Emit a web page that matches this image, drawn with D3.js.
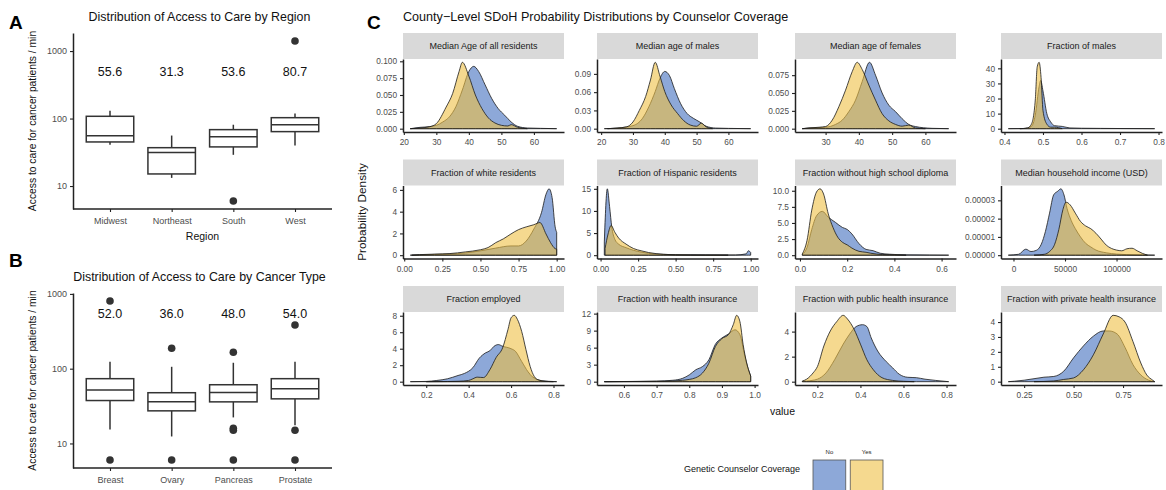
<!DOCTYPE html>
<html>
<head>
<meta charset="utf-8">
<script src="https://cdn.jsdelivr.net/npm/d3@7"></script>
<style>
  body { margin: 0; background: #fff; }
  svg text { font-family: "Liberation Sans", Arial, sans-serif; }
</style>
</head>
<body>
<div id="chart"></div>
<script>
// ---------- panel A : access to care by region ----------
const regions = ["Midwest", "Northeast", "South", "West"];
const regionMedian = [55.6, 31.3, 53.6, 80.7];
const regionQ1 = [45, 15.1, 38, 64];
const regionQ3 = [108, 37, 68.5, 103];
const regionLow = [41, 13.2, 29, 40];
const regionHigh = [131, 56, 81, 119];
const regionOutliers = [[], [], [6.0], [1410]];

// ---------- panel B : access to care by cancer type ----------
const cancers = ["Breast", "Ovary", "Pancreas", "Prostate"];
const cancerMedian = [52.0, 36.0, 48.0, 54.0];
const cancerQ1 = [37.5, 27.3, 36, 39.5];
const cancerQ3 = [73.5, 47.7, 61, 73.5];
const cancerLow = [15.4, 12.4, 22.3, 17.5];
const cancerHigh = [124, 106, 120, 124];
const cancerOutliers = [[805, 6], [188, 6], [166, 16, 15, 6], [384, 15, 6]];

const logTicks = [10, 100, 1000];

// ---------- panel C : densities [value, density] ----------
const facetNames = [
  "Median Age of all residents", "Median age of males", "Median age of females", "Fraction of males",
  "Fraction of white residents", "Fraction of Hispanic residents", "Fraction without high school diploma", "Median household income (USD)",
  "Fraction employed", "Fraction with health insurance", "Fraction with public health insurance", "Fraction with private health insurance"
];

const ageAllNo = [[22,0],[25,0.002],[28,0.003],[30,0.005],[32,0.01],[34,0.0175],[36,0.0325],[38,0.0575],[40,0.085],[41.5,0.0925],[43,0.085],[45,0.065],[47,0.045],[49,0.03],[51,0.02],[53,0.01],[55,0.0035],[58,0.001],[62,0.0005],[67,0]];
const ageAllYes = [[22,0],[25,0.001],[28,0.003],[30,0.0075],[33,0.032],[35,0.052],[37,0.085],[38,0.0985],[40,0.078],[42,0.05],[44,0.03],[46,0.016],[48,0.0085],[50,0.005],[52,0.004],[53,0.006],[55,0.002],[58,0]];
const ageMaleNo = [[21,0],[25,0.001],[30,0.005],[33,0.017],[35,0.036],[37,0.061],[38.5,0.083],[40,0.094],[41.5,0.087],[43,0.066],[45,0.041],[47,0.025],[49,0.017],[51,0.011],[53,0.004],[56,0.001],[60,0.0005],[67,0]];
const ageMaleYes = [[22,0],[25,0.001],[28,0.003],[30,0.011],[32,0.03],[34,0.053],[35.5,0.08],[37,0.109],[38.5,0.086],[40,0.061],[42,0.039],[44,0.025],[46,0.013],[48,0.006],[50,0.004],[51.5,0.009],[53,0.003],[55,0]];
const ageFemaleNo = [[23,0],[25,0.001],[30,0.002],[33,0.006],[35,0.012],[37,0.024],[39,0.04],[41,0.066],[43.2,0.093],[45,0.075],[47,0.05],[49,0.033],[51,0.024],[53,0.014],[55,0.006],[57,0.003],[62,0.0005],[67,0]];
const ageFemaleYes = [[23,0],[25,0.001],[28,0.002],[30,0.003],[32,0.012],[34,0.031],[36,0.054],[38,0.08],[39.5,0.093],[41,0.083],[43,0.061],[45,0.04],[47,0.021],[49,0.011],[51,0.006],[53,0.0035],[55,0.005],[57,0.001],[60,0]];
const maleFracNo = [[0.41,0],[0.45,0.1],[0.47,1.5],[0.48,9],[0.49,28],[0.494,32],[0.5,25],[0.51,10],[0.52,4.5],[0.53,2],[0.55,1.5],[0.57,0.5],[0.6,0.3],[0.65,0.2],[0.7,0.1],[0.79,0]];
const maleFracYes = [[0.44,0],[0.46,0.5],[0.47,3],[0.48,19],[0.485,41],[0.49,44],[0.495,34],[0.5,12],[0.51,3],[0.52,1],[0.53,1],[0.55,0]];
const whiteNo = [[0.04,0],[0.1,0.02],[0.2,0.07],[0.3,0.1],[0.4,0.2],[0.5,0.4],[0.6,0.65],[0.7,0.85],[0.75,0.85],[0.8,1.3],[0.85,2.4],[0.9,3.9],[0.93,5.6],[0.95,6.1],[0.97,5.3],[0.99,2.6],[1.0,2.1]];
const whiteYes = [[0.05,0],[0.1,0.05],[0.2,0.1],[0.3,0.15],[0.4,0.3],[0.5,0.5],[0.55,0.7],[0.6,1.15],[0.65,1.5],[0.7,1.95],[0.75,2.35],[0.8,2.6],[0.85,2.8],[0.89,3.0],[0.93,1.95],[0.96,1.15],[0.99,0.6],[1.0,0.55]];
const hispNo = [[0.025,3],[0.045,15],[0.06,11],[0.075,6.3],[0.095,3.6],[0.12,2.5],[0.17,1.7],[0.22,1.1],[0.27,0.7],[0.32,0.4],[0.4,0.2],[0.5,0.1],[0.7,0.05],[0.9,0.05],[0.97,0.3],[0.985,1.0],[1.0,0.6]];
const hispYes = [[0.03,1.5],[0.05,4.8],[0.07,6.7],[0.095,5.2],[0.12,3.9],[0.17,2.5],[0.22,1.5],[0.27,1.0],[0.32,0.6],[0.37,0.35],[0.42,0.2],[0.5,0.08],[0.6,0.04],[0.75,0.02],[0.85,0]];
const diplomaNo = [[0.01,0.1],[0.03,1.2],[0.05,4.0],[0.07,6.1],[0.095,6.8],[0.12,5.9],[0.15,5.1],[0.18,4.3],[0.2,4.0],[0.22,3.3],[0.25,1.8],[0.28,0.9],[0.31,0.7],[0.34,0.3],[0.38,0.15],[0.45,0.05],[0.55,0.02],[0.63,0]];
const diplomaYes = [[0.01,0.2],[0.03,2.3],[0.05,7.0],[0.07,9.8],[0.085,10.3],[0.1,9.5],[0.12,6.4],[0.14,4.3],[0.16,2.8],[0.18,2.0],[0.2,1.6],[0.22,1.1],[0.25,0.6],[0.28,0.45],[0.3,0.3],[0.35,0.1],[0.4,0.05],[0.45,0]];
const incomeNo = [[-5000,0],[5000,5e-7],[12000,3.3e-6],[17000,2.0e-6],[22000,2.6e-6],[27000,6e-6],[31000,1.3e-5],[35000,2.3e-5],[39000,3.3e-5],[43000,3.5e-5],[46000,3.63e-5],[49000,3.3e-5],[52000,2.55e-5],[56000,1.9e-5],[60000,1.45e-5],[65000,1.0e-5],[70000,6.5e-6],[75000,4.5e-6],[80000,2.8e-6],[90000,1.3e-6],[100000,6e-7],[110000,3e-7],[125000,1e-7],[137000,0]];
const incomeYes = [[20000,0],[30000,5e-7],[35000,2e-6],[40000,6e-6],[44000,1.4e-5],[48000,2.5e-5],[51000,2.9e-5],[55000,2.75e-5],[60000,2.3e-5],[65000,1.85e-5],[70000,1.6e-5],[75000,1.45e-5],[80000,1.2e-5],[85000,8.8e-6],[90000,5.5e-6],[95000,3.7e-6],[100000,2.8e-6],[105000,2.4e-6],[110000,3.5e-6],[115000,3.8e-6],[120000,2.4e-6],[125000,1e-6],[130000,0]];
const employedNo = [[0.125,0],[0.2,0.03],[0.25,0.15],[0.3,0.35],[0.35,0.75],[0.38,1.0],[0.42,1.7],[0.45,2.85],[0.48,3.5],[0.5,3.75],[0.52,4.3],[0.54,4.5],[0.56,4.3],[0.6,4.0],[0.62,3.7],[0.65,2.45],[0.68,1.2],[0.7,0.6],[0.72,0.3],[0.75,0.1],[0.8,0.02],[0.815,0]];
const employedYes = [[0.2,0],[0.3,0.02],[0.35,0.05],[0.4,0.15],[0.42,0.35],[0.44,0.55],[0.47,0.5],[0.5,1.45],[0.53,2.95],[0.56,4.1],[0.585,6.3],[0.6,7.75],[0.615,8.05],[0.63,7.55],[0.65,6.1],[0.67,3.9],[0.69,1.85],[0.71,0.6],[0.73,0.2],[0.76,0.05],[0.8,0]];
const healthNo = [[0.54,0],[0.6,0.03],[0.7,0.1],[0.75,0.25],[0.78,0.6],[0.8,1.2],[0.82,2.1],[0.84,2.65],[0.86,3.85],[0.88,6.6],[0.9,7.7],[0.92,8.4],[0.94,9.15],[0.955,8.3],[0.97,4.5],[0.98,2.3],[0.988,1.0]];
const healthYes = [[0.54,0],[0.6,0.02],[0.7,0.06],[0.75,0.12],[0.78,0.25],[0.8,0.4],[0.82,0.7],[0.84,1.5],[0.86,3.25],[0.88,6.2],[0.9,7.6],[0.92,8.3],[0.935,10.1],[0.945,11.7],[0.955,10.6],[0.965,6.5],[0.975,3.5],[0.988,1.0]];
const publicNo = [[0.13,0.02],[0.15,0.05],[0.2,0.2],[0.24,0.7],[0.28,1.75],[0.32,3.0],[0.35,3.8],[0.38,4.4],[0.41,4.55],[0.43,4.4],[0.45,3.5],[0.48,2.45],[0.52,1.6],[0.55,1.1],[0.58,0.6],[0.62,0.35],[0.66,0.32],[0.7,0.2],[0.75,0.1],[0.81,0]];
const publicYes = [[0.13,0.05],[0.15,0.2],[0.18,0.7],[0.2,1.2],[0.23,2.85],[0.26,4.05],[0.29,4.8],[0.32,5.3],[0.34,5.0],[0.37,4.2],[0.4,3.0],[0.43,1.75],[0.46,0.95],[0.5,0.32],[0.55,0.1],[0.6,0.03],[0.65,0]];
const privateNo = [[0.17,0],[0.2,0.03],[0.25,0.1],[0.3,0.2],[0.35,0.3],[0.4,0.35],[0.45,0.7],[0.5,1.6],[0.55,2.4],[0.6,3.05],[0.65,3.4],[0.68,3.4],[0.72,3.2],[0.76,2.3],[0.8,1.15],[0.84,0.45],[0.88,0.1],[0.91,0]];
const privateYes = [[0.3,0],[0.4,0.05],[0.45,0.15],[0.5,0.25],[0.55,0.8],[0.6,1.8],[0.65,3.2],[0.7,4.45],[0.73,4.35],[0.76,4.0],[0.8,2.7],[0.84,1.25],[0.87,0.45],[0.9,0.1],[0.91,0]];

const densNo = [ageAllNo, ageMaleNo, ageFemaleNo, maleFracNo, whiteNo, hispNo, diplomaNo, incomeNo, employedNo, healthNo, publicNo, privateNo];
const densYes = [ageAllYes, ageMaleYes, ageFemaleYes, maleFracYes, whiteYes, hispYes, diplomaYes, incomeYes, employedYes, healthYes, publicYes, privateYes];

const xTickVals = [
  [20,30,40,50,60], [20,30,40,50,60], [30,40,50,60], [0.4,0.5,0.6,0.7,0.8],
  [0,0.25,0.5,0.75,1], [0,0.25,0.5,0.75,1], [0,0.2,0.4,0.6], [0,50000,100000],
  [0.2,0.4,0.6,0.8], [0.6,0.7,0.8,0.9,1.0], [0.2,0.4,0.6,0.8], [0.25,0.5,0.75]
];
const xTickLabels = [
  ["20","30","40","50","60"], ["20","30","40","50","60"], ["30","40","50","60"], ["0.4","0.5","0.6","0.7","0.8"],
  ["0.00","0.25","0.50","0.75","1.00"], ["0.00","0.25","0.50","0.75","1.00"], ["0.0","0.2","0.4","0.6"], ["0","50000","100000"],
  ["0.2","0.4","0.6","0.8"], ["0.6","0.7","0.8","0.9","1.0"], ["0.2","0.4","0.6","0.8"], ["0.25","0.50","0.75"]
];
const yTickVals = [
  [0,0.025,0.05,0.075,0.1], [0,0.03,0.06,0.09], [0,0.025,0.05,0.075], [0,10,20,30,40],
  [0,2,4,6], [0,5,10,15], [0,2.5,5,7.5,10], [0,1e-5,2e-5,3e-5],
  [0,2,4,6,8], [0,3,6,9,12], [0,2,4], [0,1,2,3,4]
];
const yTickLabels = [
  ["0.000","0.025","0.050","0.075","0.100"], ["0.00","0.03","0.06","0.09"], ["0.000","0.025","0.050","0.075"], ["0","10","20","30","40"],
  ["0","2","4","6"], ["0","5","10","15"], ["0.0","2.5","5.0","7.5","10.0"], ["0.00000","0.00001","0.00002","0.00003"],
  ["0","2","4","6","8"], ["0","3","6","9","12"], ["0","2","4"], ["0","1","2","3","4"]
];

const groups = ["No", "Yes"];
const groupColors = ["#416EBE", "#EEC044"];

// ---------- layout ----------
const width = 1166, height = 490;
const svg = d3.select("#chart").append("svg").attr("width", width).attr("height", height);

const ink = "#222";
const tickGrey = "#4d4d4d";

function styleAxis(ax, size) {
  ax.attr("font-family", null).attr("font-size", null);
  ax.select(".domain").attr("stroke", ink).attr("stroke-width", 1.5);
  ax.selectAll(".tick line").attr("stroke", ink).attr("stroke-width", 1.1);
  ax.selectAll(".tick text").attr("fill", tickGrey).style("font-size", size + "px");
}

function logDomain(vals) {
  const lo = Math.log10(d3.min(vals)), hi = Math.log10(d3.max(vals));
  const pad = (hi - lo) * 0.05;
  return [Math.pow(10, lo - pad), Math.pow(10, hi + pad)];
}

function boxPanel(o) {
  const g = svg.append("g");
  const x = d3.scalePoint().domain(o.cats).range([o.left, o.right]).padding(0.6);
  const y = d3.scaleLog().domain(logDomain(o.low.concat(o.high, o.outliers.flat()))).range([o.bottom, o.top]);
  const bw = x.step() * 0.77;
  const rows = o.cats.map((c, i) => ({ c, q1: o.q1[i], med: o.med[i], q3: o.q3[i], lo: o.low[i], hi: o.high[i], out: o.outliers[i] }));

  g.selectAll("line.wl").data(rows).join("line").attr("class", "wl")
    .attr("x1", d => x(d.c)).attr("x2", d => x(d.c))
    .attr("y1", d => y(d.lo)).attr("y2", d => y(d.q1))
    .attr("stroke", "#333").attr("stroke-width", 1.5);
  g.selectAll("line.wh").data(rows).join("line").attr("class", "wh")
    .attr("x1", d => x(d.c)).attr("x2", d => x(d.c))
    .attr("y1", d => y(d.hi)).attr("y2", d => y(d.q3))
    .attr("stroke", "#333").attr("stroke-width", 1.5);
  g.selectAll("rect").data(rows).join("rect")
    .attr("x", d => x(d.c) - bw / 2).attr("width", bw)
    .attr("y", d => y(d.q3)).attr("height", d => y(d.q1) - y(d.q3))
    .attr("fill", "#fff").attr("stroke", "#333").attr("stroke-width", 1.5);
  g.selectAll("line.md").data(rows).join("line").attr("class", "md")
    .attr("x1", d => x(d.c) - bw / 2).attr("x2", d => x(d.c) + bw / 2)
    .attr("y1", d => y(d.med)).attr("y2", d => y(d.med))
    .attr("stroke", "#333").attr("stroke-width", 1.5);
  const pts = rows.flatMap(d => d.out.map(v => ({ c: d.c, v })));
  g.selectAll("circle").data(pts).join("circle")
    .attr("cx", d => x(d.c)).attr("cy", d => y(d.v)).attr("r", 3.8).attr("fill", "#333");
  g.selectAll("text.lab").data(rows).join("text").attr("class", "lab")
    .attr("x", d => x(d.c)).attr("y", y(o.labelY)).attr("dy", "0.35em")
    .attr("text-anchor", "middle").style("font-size", "12.5px").attr("fill", "#111")
    .text(d => d.med.toFixed(1));

  const ya = g.append("g").attr("transform", `translate(${o.left},0)`)
    .call(d3.axisLeft(y).tickValues(logTicks).tickFormat(d3.format("d")).tickSize(3).tickSizeOuter(0).tickPadding(3));
  styleAxis(ya, 9);
  const xa = g.append("g").attr("transform", `translate(0,${o.bottom})`)
    .call(d3.axisBottom(x).tickSize(3).tickSizeOuter(0).tickPadding(6));
  xa.select(".domain").attr("d", `M${o.left},0H${o.right}`);
  styleAxis(xa, 9);

  g.append("text").attr("x", (o.left + o.right) / 2 - 3).attr("y", o.titleY)
    .attr("text-anchor", "middle").style("font-size", "12.4px").attr("fill", "#111").text(o.title);
  g.append("text").attr("transform", `translate(${o.ytitleX},${(o.top + o.bottom) / 2}) rotate(-90)`)
    .attr("text-anchor", "middle").style("font-size", "10.3px").attr("fill", "#111")
    .text("Access to care for cancer patients / min");
  if (o.xtitle) {
    g.append("text").attr("x", (o.left + o.right) / 2).attr("y", o.bottom + 31)
      .attr("text-anchor", "middle").style("font-size", "10.5px").attr("fill", "#111").text(o.xtitle);
  }
  g.append("text").attr("x", 9).attr("y", o.tagY).style("font-size", "19px").style("font-weight", "bold").text(o.tag);
}

boxPanel({
  cats: regions, med: regionMedian, q1: regionQ1, q3: regionQ3, low: regionLow, high: regionHigh, outliers: regionOutliers,
  left: 73, right: 332, top: 33, bottom: 209, labelY: 500,
  title: "Distribution of Access to Care by Region", titleY: 21, ytitleX: 36, xtitle: "Region", tag: "A", tagY: 29
});
boxPanel({
  cats: cancers, med: cancerMedian, q1: cancerQ1, q3: cancerQ3, low: cancerLow, high: cancerHigh, outliers: cancerOutliers,
  left: 73, right: 332, top: 293, bottom: 468, labelY: 550,
  title: "Distribution of Access to Care by Cancer Type", titleY: 281, ytitleX: 36, xtitle: null, tag: "B", tagY: 267
});

// ---------- panel C facets ----------
const colLeft = [403, 597, 795, 1001];
const panelW = 161;
const stripTop = [33, 159.5, 286];
const stripH = 26;
const panelH = 73;

const area = (x, y) => d3.area().x(d => x(d[0])).y0(y(0)).y1(d => y(d[1])).curve(d3.curveMonotoneX);

facetNames.forEach((name, i) => {
  const col = i % 4, row = Math.floor(i / 4);
  const left = colLeft[col], top = stripTop[row] + stripH, bottom = top + panelH;
  const all = densNo[i].concat(densYes[i]);
  const ext = d3.extent(all, d => d[0]);
  const xp = (ext[1] - ext[0]) * 0.05;
  const x = d3.scaleLinear().domain([ext[0] - xp, ext[1] + xp]).range([left, left + panelW]);
  const ymax = d3.max(all, d => d[1]);
  const y = d3.scaleLinear().domain([-ymax * 0.05, ymax * 1.05]).range([bottom, top]);
  const g = svg.append("g");

  g.append("rect").attr("x", left).attr("y", stripTop[row]).attr("width", panelW).attr("height", stripH).attr("fill", "#d9d9d9");
  g.append("text").attr("x", left + panelW / 2).attr("y", stripTop[row] + stripH / 2).attr("dy", "0.35em")
    .attr("text-anchor", "middle").style("font-size", "9px").attr("fill", "#1a1a1a").text(name);

  [densNo[i], densYes[i]].forEach((dd, k) => {
    g.append("path").datum(dd).attr("d", area(x, y))
      .attr("fill", groupColors[k]).attr("fill-opacity", 0.6)
      .attr("stroke", "#1a1a1a").attr("stroke-width", 0.8).attr("stroke-linejoin", "round");
  });

  const xa = g.append("g").attr("transform", `translate(0,${bottom})`)
    .call(d3.axisBottom(x).tickValues(xTickVals[i]).tickFormat((d, j) => xTickLabels[i][j]).tickSize(3).tickSizeOuter(0).tickPadding(4.5));
  styleAxis(xa, 8.3);
  const ya = g.append("g").attr("transform", `translate(${left},0)`)
    .call(d3.axisLeft(y).tickValues(yTickVals[i]).tickFormat((d, j) => yTickLabels[i][j]).tickSize(3).tickSizeOuter(0).tickPadding(3));
  styleAxis(ya, 8.3);
});

svg.append("text").attr("x", 367).attr("y", 29).style("font-size", "19px").style("font-weight", "bold").text("C");
svg.append("text").attr("x", 403).attr("y", 21).style("font-size", "12.6px").attr("fill", "#111")
  .text("County\u2212Level SDoH Probability Distributions by Counselor Coverage");
svg.append("text").attr("transform", `translate(366,${(stripTop[0] + stripTop[2] + stripH + panelH) / 2 + 3}) rotate(-90)`)
  .attr("text-anchor", "middle").style("font-size", "11.8px").attr("fill", "#111").text("Probability Density");
svg.append("text").attr("x", (colLeft[0] + colLeft[3] + panelW) / 2).attr("y", 415)
  .attr("text-anchor", "middle").style("font-size", "10.5px").attr("fill", "#111").text("value");

// ---------- legend ----------
const lg = svg.append("g");
lg.append("text").attr("x", 800).attr("y", 472).attr("text-anchor", "end")
  .style("font-size", "9px").attr("fill", "#111").text("Genetic Counselor Coverage");
const keyX = d3.scaleBand().domain(groups).range([813, 883]).paddingInner(0.12);
lg.selectAll("rect").data(groups).join("rect")
  .attr("x", d => keyX(d)).attr("y", 460).attr("width", keyX.bandwidth()).attr("height", keyX.bandwidth())
  .attr("fill", (d, k) => groupColors[k]).attr("fill-opacity", 0.6)
  .attr("stroke", "#555").attr("stroke-width", 0.8);
lg.selectAll("text.kl").data(groups).join("text").attr("class", "kl")
  .attr("x", d => keyX(d) + keyX.bandwidth() / 2).attr("y", 454)
  .attr("text-anchor", "middle").style("font-size", "6px").attr("fill", "#222").text(d => d);
</script>
</body>
</html>
